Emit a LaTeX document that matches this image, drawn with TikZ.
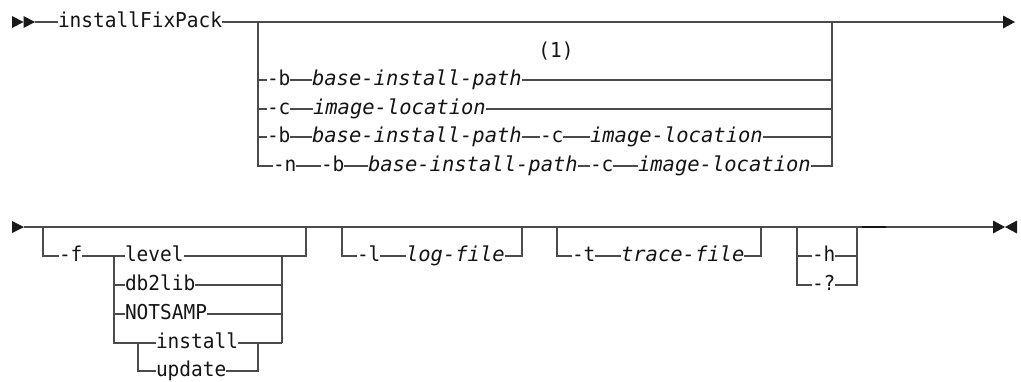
\documentclass[tikz,border=0pt]{standalone}
\usepackage{fontspec}
\newfontfamily\kwfamily{DejaVu Sans Mono}[FakeStretch=0.95]
\newfontfamily\varfamily{DejaVu Sans Mono}[FakeStretch=1.0]
\newcommand\mykw{\kwfamily\fontsize{20.5}{22}\selectfont}
\newcommand\myvar{\varfamily\itshape\fontsize{20.5}{22}\selectfont}
\definecolor{railc}{RGB}{75,75,75}
\definecolor{txtc}{RGB}{20,20,20}
\definecolor{tipc}{RGB}{25,25,25}
\tikzset{
  rail/.style={draw=railc, line width=1.5pt},
  thickrail/.style={draw=txtc, line width=2.6pt},
  txt/.style={text=txtc, inner sep=0pt, outer sep=0pt, anchor=west,
              text height=16pt, text depth=5pt},
  kw/.style={txt, font=\mykw},
  var/.style={txt, font=\myvar},
  tip/.style={fill=tipc},
}
\begin{document}
\begin{tikzpicture}[x=1pt,y=-1pt]
\useasboundingbox (0,0) rectangle (1021,381);
% ---------- first section ----------
\fill[tip] (12,16) -- (23.5,22) -- (12,28) -- cycle;
\fill[tip] (23.5,16) -- (35,22) -- (23.5,28) -- cycle;
\coordinate (s0) at (35,22);
\coordinate (e0) at (1003,22);
\fill[tip] (1003,15.5) -- (1015,22) -- (1003,28.5) -- cycle;
\node[kw] (cmd) at (58,22) {installFixPack};
\coordinate (L1) at (258,22);
\coordinate (R1) at (832,22);
\node[kw, anchor=center] (note) at (556,52) {(1)};
% row 1
\node[kw] (b1) at (267,80) {-b};
\node[var] (p1) at (312,80) {base-install-path};
% row 2
\node[kw] (c2) at (267,109) {-c};
\node[var] (il2) at (313,109) {image-location};
% row 3
\node[kw] (b3) at (267,137) {-b};
\node[var] (p3) at (312,137) {base-install-path};
\node[kw] (c3) at (540,137) {-c};
\node[var] (il3) at (590,137) {image-location};
% row 4
\node[kw] (n4) at (273,166) {-n};
\node[kw] (b4) at (321,166) {-b};
\node[var] (p4) at (368,166) {base-install-path};
\node[kw] (c4) at (590,166) {-c};
\node[var] (il4) at (638,166) {image-location};

\draw[rail] (s0) -- (cmd.west);
\draw[rail] (cmd.east) -- (e0);
\draw[rail] (L1) |- (b1.west);
\draw[rail] (b1.east) -- (p1.west);
\draw[rail] (p1.east) -| (R1);
\draw[rail] (L1) |- (c2.west);
\draw[rail] (c2.east) -- (il2.west);
\draw[rail] (il2.east) -| (R1);
\draw[rail] (L1) |- (b3.west);
\draw[rail] (b3.east) -- (p3.west);
\draw[rail] (p3.east) -- (c3.west);
\draw[rail] (c3.east) -- (il3.west);
\draw[rail] (il3.east) -| (R1);
\draw[rail] (L1) |- (n4.west);
\draw[rail] (n4.east) -- (b4.west);
\draw[rail] (b4.east) -- (p4.west);
\draw[rail] (p4.east) -- (c4.west);
\draw[rail] (c4.east) -- (il4.west);
\draw[rail] (il4.east) -| (R1);

% ---------- second section ----------
\fill[tip] (12,221) -- (24,227) -- (12,233) -- cycle;
\coordinate (s1) at (24,227);
\coordinate (e1) at (993,227);
\fill[tip] (993,220.5) -- (1005,227) -- (993,233.5) -- cycle;
\fill[tip] (1017,220.5) -- (1005,227) -- (1017,233.5) -- cycle;
\draw[rail] (s1) -- (e1);

% -f group
\coordinate (fL) at (43,227);
\coordinate (fR) at (306,227);
\coordinate (sL) at (114,256);
\coordinate (sR) at (282,256);
\coordinate (iL) at (138,343);
\coordinate (iR) at (258,343);
\node[kw] (f) at (59,256) {-f};
\node[kw] (level) at (125,256) {level};
\node[kw] (db2lib) at (125,285) {db2lib};
\node[kw] (notsamp) at (125,314) {NOTSAMP};
\node[kw] (install) at (156,343) {install};
\node[kw] (update) at (156,371) {update};
\draw[rail] (fL) |- (f.west);
\draw[rail] (f.east) -- (level.west);
\draw[rail] (sL) |- (db2lib.west);
\draw[rail] (sL) |- (notsamp.west);
\draw[rail] (sL) |- (iL);
\draw[rail] (iL) -- (install.west);
\draw[rail] (iL) |- (update.west);
\draw[rail] (install.east) -- (iR);
\draw[rail] (update.east) -| (iR);
\draw[rail] (iR) -- (sR |- iR);
\draw[rail] (level.east) -- (sR);
\draw[rail] (db2lib.east) -| (sR);
\draw[rail] (notsamp.east) -| (sR);
\draw[rail] (sR) -- (sR |- iR);
\draw[rail] (sR) -| (fR);

% -l group
\coordinate (lL) at (342,227);
\coordinate (lR) at (522,227);
\node[kw] (lopt) at (357,256) {-l};
\node[var] (logf) at (406,256) {log-file};
\draw[rail] (lL) |- (lopt.west);
\draw[rail] (lopt.east) -- (logf.west);
\draw[rail] (logf.east) -| (lR);

% -t group
\coordinate (tL) at (557,227);
\coordinate (tR) at (761,227);
\node[kw] (topt) at (572,256) {-t};
\node[var] (tracef) at (621,256) {trace-file};
\draw[rail] (tL) |- (topt.west);
\draw[rail] (topt.east) -- (tracef.west);
\draw[rail] (tracef.east) -| (tR);

% -h / -? group
\coordinate (hL) at (797,227);
\coordinate (hR) at (857,227);
\node[kw] (hopt) at (812,256) {-h};
\node[kw] (qopt) at (812,285) {-?};
\draw[rail] (hL) |- (hopt.west);
\draw[rail] (hL) |- (qopt.west);
\draw[rail] (hopt.east) -| (hR);
\draw[rail] (qopt.east) -| (hR);
\coordinate (k1) at (862,227);
\coordinate (k2) at (886,227);
\draw[thickrail] (k1) -- (k2);
\end{tikzpicture}
\end{document}
